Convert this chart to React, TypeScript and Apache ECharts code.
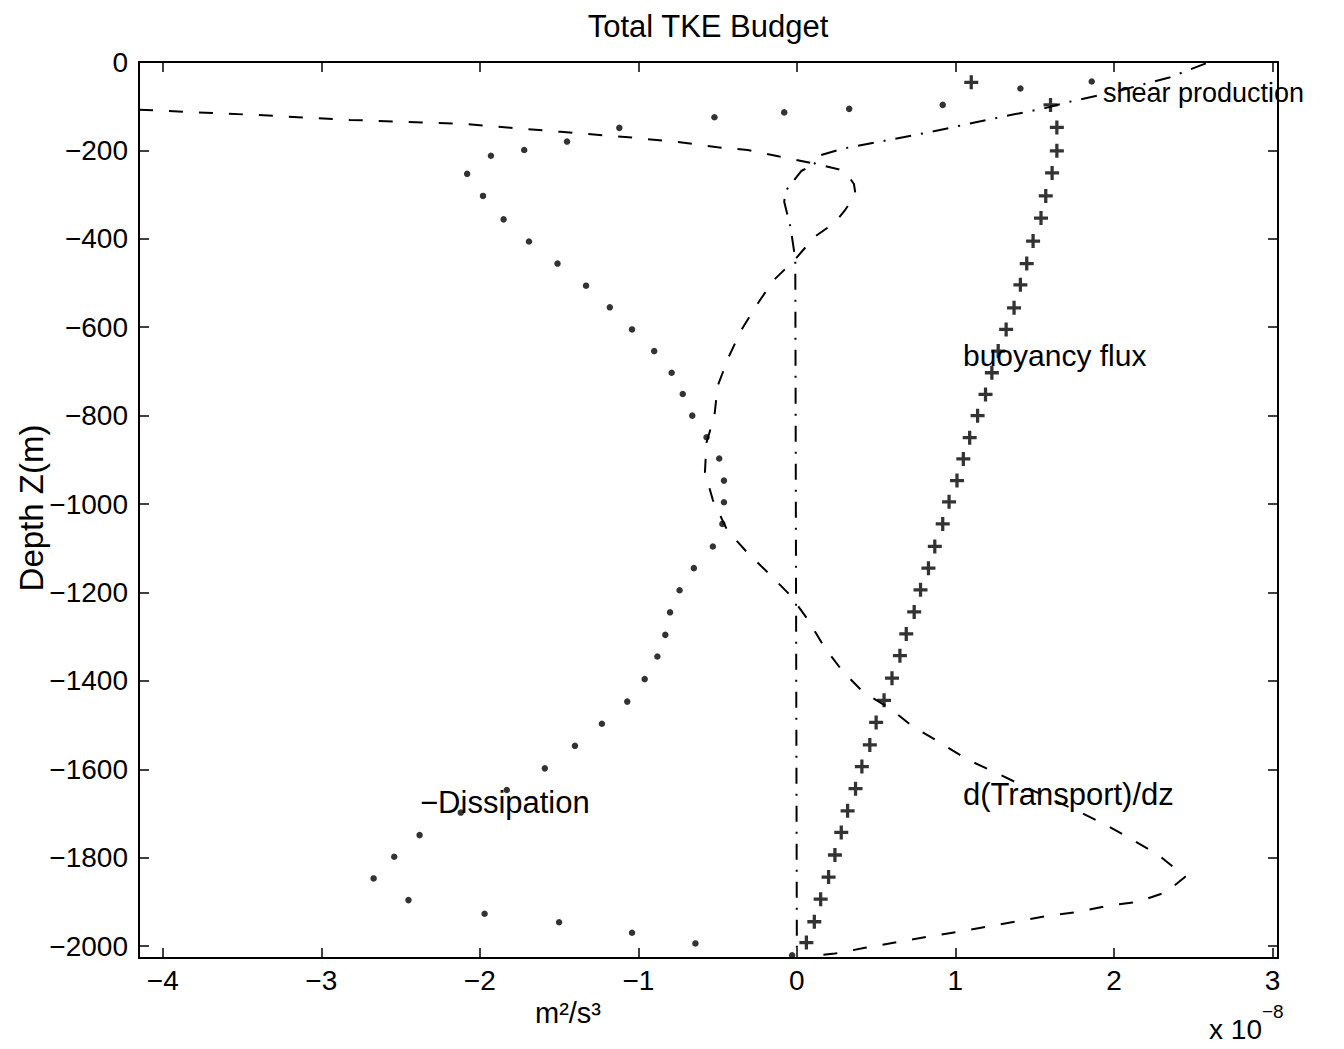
import React, { useEffect, useRef } from 'react';
import * as echarts from 'echarts';

// Tick values
const xTicks = [-4, -3, -2, -1, 0, 1, 2, 3];
const yTicks = [0, -200, -400, -600, -800, -1000, -1200, -1400, -1600, -1800, -2000];

// -Dissipation (dots), x in units of 1e-8 m^2/s^3
const dissDepth = [-44, -60, -97, -106, -114, -125, -149, -180, -199, -212, -253, -303, -356, -406, -456, -506, -555, -605, -654, -703, -751, -800, -849, -897, -947, -996, -1045, -1096, -1145, -1195, -1245, -1296, -1345, -1396, -1447, -1497, -1547, -1598, -1647, -1698, -1749, -1798, -1847, -1896, -1927, -1946, -1970, -1994, -2021];
const dissValue = [1.86, 1.41, 0.92, 0.33, -0.08, -0.52, -1.12, -1.45, -1.72, -1.93, -2.08, -1.98, -1.85, -1.69, -1.51, -1.33, -1.18, -1.04, -0.9, -0.79, -0.72, -0.66, -0.57, -0.49, -0.46, -0.46, -0.47, -0.53, -0.65, -0.74, -0.8, -0.83, -0.88, -0.96, -1.07, -1.23, -1.4, -1.59, -1.83, -2.12, -2.38, -2.54, -2.67, -2.45, -1.97, -1.5, -1.04, -0.64, -0.03];

// Buoyancy flux (+)
const buoyDepth = [-46, -97, -148, -201, -251, -303, -353, -405, -456, -504, -556, -605, -654, -703, -752, -800, -850, -898, -947, -995, -1045, -1096, -1145, -1194, -1244, -1294, -1343, -1394, -1444, -1494, -1545, -1594, -1644, -1694, -1743, -1794, -1844, -1894, -1945, -1992];
const buoyValue = [1.1, 1.6, 1.64, 1.64, 1.61, 1.57, 1.54, 1.49, 1.45, 1.41, 1.37, 1.32, 1.27, 1.23, 1.19, 1.14, 1.09, 1.05, 1.01, 0.96, 0.92, 0.87, 0.83, 0.78, 0.74, 0.69, 0.65, 0.6, 0.55, 0.5, 0.46, 0.41, 0.37, 0.32, 0.28, 0.24, 0.2, 0.15, 0.11, 0.06];

// Shear production (dash-dot)
const shearDepth = [-3, -35, -68, -90, -105, -122, -144, -160, -177, -196, -212, -231, -246, -291, -316, -374, -446, -2021];
const shearValue = [2.58, 2.35, 2.0, 1.72, 1.56, 1.32, 1.03, 0.82, 0.57, 0.29, 0.14, 0.11, 0.03, -0.07, -0.08, -0.04, -0.01, 0.0];

// d(Transport)/dz (dashed)
const transDepth = [-108, -120, -131, -140, -158, -171, -183, -193, -199, -214, -229, -246, -276, -300, -337, -363, -396, -446, -495, -548, -606, -667, -733, -800, -861, -928, -991, -1059, -1111, -1156, -1207, -1262, -1322, -1379, -1426, -1463, -1503, -1539, -1577, -1607, -1650, -1696, -1726, -1758, -1794, -1843, -1878, -1900, -1909, -1923, -1932, -1944, -1956, -1968, -1979, -1991, -2004, -2017, -2021];
const transValue = [-4.15, -3.4, -2.82, -2.1, -1.49, -1.04, -0.7, -0.5, -0.31, -0.11, 0.1, 0.3, 0.36, 0.37, 0.3, 0.24, 0.11, -0.01, -0.15, -0.25, -0.35, -0.43, -0.5, -0.52, -0.57, -0.58, -0.53, -0.44, -0.31, -0.18, -0.04, 0.07, 0.17, 0.29, 0.42, 0.59, 0.73, 0.9, 1.07, 1.25, 1.5, 1.78, 1.95, 2.11, 2.28, 2.45, 2.33, 2.15, 1.96, 1.77, 1.58, 1.39, 1.2, 1.01, 0.82, 0.63, 0.43, 0.24, 0.14];

const FONT = '"Liberation Sans", Arial, Helvetica, sans-serif';
const fmt = (v: number) => (v < 0 ? '\u2212' + Math.abs(v) : String(v));
const pairs = (xs: number[], ys: number[]) => xs.map((x, i) => [x, ys[i]]);

const PLUS = 'path://M4.6,0 H7.4 V4.6 H12 V7.4 H7.4 V12 H4.6 V7.4 H0 V4.6 H4.6 Z';

export default function App() {
  const ref = useRef<HTMLDivElement>(null);
  useEffect(() => {
    document.body.style.margin = '0';
    const chart = echarts.init(ref.current!, null, { renderer: 'svg' });
    const axisLine = { show: true, onZero: false, lineStyle: { color: '#000', width: 2 } };
    const xMin = -4.15, xMax = 3.035, yMin = -2027, yMax = 0;
    const tickStyle = { show: true, inside: true, length: 10, lineStyle: { color: '#000', width: 1.5 } };
    const txt = (text: string, x: number, y: number, size: number, align = 'left', extra: any = {}) => ({
      type: 'text', x, y, ...extra,
      style: { text, font: `${size}px ${FONT}`, fill: '#000', align, verticalAlign: 'middle', textAlign: align, textVerticalAlign: 'middle' },
    });
    const option: any = {
      animation: false,
      backgroundColor: '#fff',
      grid: { left: 139, top: 62, width: 1139, height: 896, containLabel: false },
      xAxis: [
        {
          type: 'value', min: xMin, max: xMax, position: 'bottom',
          axisLine, splitLine: { show: false },
          axisTick: { ...tickStyle, customValues: xTicks },
          axisLabel: { customValues: xTicks, formatter: fmt, color: '#000', fontFamily: FONT, fontSize: 28, margin: 8, showMinLabel: true, showMaxLabel: true },
        },
        {
          type: 'value', min: xMin, max: xMax, position: 'top',
          axisLine, splitLine: { show: false },
          axisTick: { ...tickStyle, customValues: xTicks },
          axisLabel: { show: false },
        },
      ],
      yAxis: [
        {
          type: 'value', min: yMin, max: yMax, position: 'left',
          axisLine, splitLine: { show: false },
          axisTick: { ...tickStyle, customValues: yTicks },
          axisLabel: { customValues: yTicks, formatter: fmt, color: '#000', fontFamily: FONT, fontSize: 28, margin: 11, showMinLabel: true, showMaxLabel: true },
        },
        {
          type: 'value', min: yMin, max: yMax, position: 'right',
          axisLine, splitLine: { show: false },
          axisTick: { ...tickStyle, customValues: yTicks },
          axisLabel: { show: false },
        },
      ],
      series: [
        {
          name: 'd(Transport)/dz', type: 'line', xAxisIndex: 0, yAxisIndex: 0,
          data: pairs(transValue, transDepth), symbol: 'none', clip: true,
          lineStyle: { color: '#000', width: 2, type: [14, 16] },
        },
        {
          name: 'shear production', type: 'line', xAxisIndex: 0, yAxisIndex: 0,
          data: pairs(shearValue, shearDepth), symbol: 'none', clip: true,
          lineStyle: { color: '#000', width: 2, type: [16, 10, 2, 10] },
        },
        {
          name: '-Dissipation', type: 'scatter', xAxisIndex: 0, yAxisIndex: 0,
          data: pairs(dissValue, dissDepth), symbol: 'circle', symbolSize: 6.5,
          itemStyle: { color: '#000' },
        },
        {
          name: 'buoyancy flux', type: 'scatter', xAxisIndex: 0, yAxisIndex: 0,
          data: pairs(buoyValue, buoyDepth), symbol: PLUS, symbolSize: 14,
          itemStyle: { color: '#000' },
        },
      ],
      graphic: [
        txt('Total TKE Budget', 708, 26, 31, 'center'),
        txt('Depth Z(m)', 31, 508, 33, 'center', { rotation: Math.PI / 2 }),
        txt('m\u00B2/s\u00B3', 568, 1013, 29, 'center'),
        txt('x 10', 1262, 1029, 28, 'right'),
        txt('\u22128', 1262, 1011, 19, 'left'),
        txt('shear production', 1103, 93, 27),
        txt('buoyancy flux', 963, 355, 30),
        txt('\u2212Dissipation', 420, 802, 31),
        txt('d(Transport)/dz', 963, 794, 31),
      ],
    };
    chart.setOption(option);
    return () => chart.dispose();
  }, []);
  return <div ref={ref} style={{ width: 1344, height: 1049 }} />;
}
